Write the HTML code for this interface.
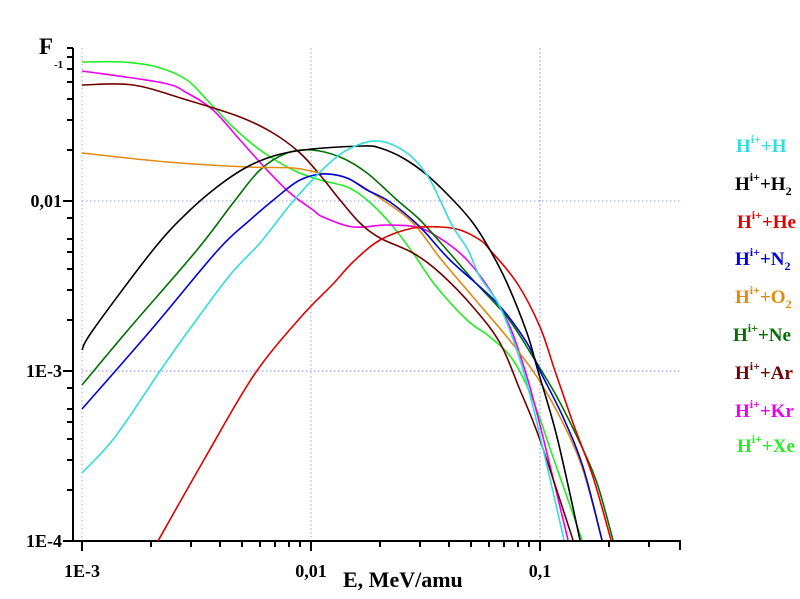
<!DOCTYPE html>
<html><head><meta charset="utf-8"><style>
html,body{margin:0;padding:0;background:#fff;}
svg{display:block;font-family:"Liberation Serif",serif;font-weight:bold;}
</style></head><body>
<svg id="s" width="800" height="599" viewBox="0 0 800 599" xmlns="http://www.w3.org/2000/svg">
<g stroke-dasharray="1.5,2.5" stroke-width="1">
<line x1="82" y1="48" x2="82" y2="541" stroke="#aaa"/>
<line x1="311" y1="48" x2="311" y2="541" stroke="#aaa"/>
<line x1="540" y1="48" x2="540" y2="541" stroke="#88f"/>
<line x1="82" y1="201" x2="680" y2="201" stroke="#99d"/>
<line x1="82" y1="371" x2="680" y2="371" stroke="#88e"/>
</g>
<g stroke="#000" stroke-width="2" fill="none">
<line x1="73" y1="48" x2="73" y2="542"/>
<line x1="72" y1="541" x2="681" y2="541"/>
<line x1="680" y1="541" x2="680" y2="550"/>
<line x1="63" y1="201" x2="73" y2="201"/>
<line x1="63" y1="371" x2="73" y2="371"/>
<line x1="63" y1="541" x2="73" y2="541"/>
<line x1="67" y1="150" x2="73" y2="150"/><line x1="67" y1="120" x2="73" y2="120"/><line x1="67" y1="99" x2="73" y2="99"/><line x1="67" y1="82" x2="73" y2="82"/><line x1="67" y1="69" x2="73" y2="69"/><line x1="67" y1="57" x2="73" y2="57"/><line x1="67" y1="48" x2="73" y2="48"/>
<line x1="67" y1="218" x2="73" y2="218"/><line x1="67" y1="239" x2="73" y2="239"/><line x1="67" y1="252" x2="73" y2="252"/><line x1="67" y1="269" x2="73" y2="269"/><line x1="67" y1="290" x2="73" y2="290"/><line x1="67" y1="320" x2="73" y2="320"/>
<line x1="67" y1="388" x2="73" y2="388"/><line x1="67" y1="409" x2="73" y2="409"/><line x1="67" y1="422" x2="73" y2="422"/><line x1="67" y1="439" x2="73" y2="439"/><line x1="67" y1="460" x2="73" y2="460"/><line x1="67" y1="490" x2="73" y2="490"/>
<line x1="82" y1="541" x2="82" y2="551"/><line x1="311" y1="541" x2="311" y2="551"/><line x1="540" y1="541" x2="540" y2="551"/>
<line x1="151" y1="541" x2="151" y2="547"/><line x1="191" y1="541" x2="191" y2="547"/><line x1="220" y1="541" x2="220" y2="547"/><line x1="242" y1="541" x2="242" y2="547"/><line x1="260" y1="541" x2="260" y2="547"/><line x1="275" y1="541" x2="275" y2="547"/><line x1="289" y1="541" x2="289" y2="547"/><line x1="300" y1="541" x2="300" y2="547"/>
<line x1="380" y1="541" x2="380" y2="547"/><line x1="420" y1="541" x2="420" y2="547"/><line x1="449" y1="541" x2="449" y2="547"/><line x1="471" y1="541" x2="471" y2="547"/><line x1="489" y1="541" x2="489" y2="547"/><line x1="504" y1="541" x2="504" y2="547"/><line x1="518" y1="541" x2="518" y2="547"/><line x1="529" y1="541" x2="529" y2="547"/>
<line x1="609" y1="541" x2="609" y2="547"/><line x1="649" y1="541" x2="649" y2="547"/>
</g>
<g id="curves" fill="none" stroke-width="1.6" stroke-linejoin="round">
<polyline stroke="#22ee22" points="82,62 123,62 157,67 187,80 207,100 233,127 260,150 293,170 320,180 347,187 367,200 390,223 413,253 435,285 467,320 490,337 513,360 533,400 553,457 582,540"/>
<polyline stroke="#ee00ee" points="82,71 163,83 187,93 213,110 240,140 267,170 290,193 313,210 323,217 353,227 387,225 420,228 447,243 467,260 490,290 510,327 527,377 543,437 568,540"/>
<polyline stroke="#700000" points="82,85 133,85 187,100 240,117 273,133 300,153 320,175 340,200 360,223 380,238 413,253 440,273 473,307 500,343 520,390 540,440 573,540"/>
<polyline stroke="#007000" points="82,385 128,330 197,250 233,203 260,170 287,153 312,150 340,157 367,173 397,200 420,220 447,250 473,280 507,317 533,357 557,397 580,443 597,483 613,540"/>
<polyline stroke="#e08a10" points="82,153 167,162 247,167 293,168 320,173 347,178 380,198 413,223 440,258 473,297 507,337 537,377 563,423 583,470 602,540"/>
<polyline stroke="#0000e0" points="82,409 151,330 218,250 250,220 277,197 300,180 323,174 347,178 367,190 390,202 420,227 450,260 497,303 527,343 540,371 563,417 583,467 602,540"/>
<polyline stroke="#e00000" points="158,541 205,458 254,375 300,318 333,284 353,262 380,240 413,228 440,227 460,230 480,240 490,250 517,283 540,327 555,371 573,423 593,477 611,540"/>
<polyline stroke="#000" points="82,350 93,330 153,250 187,213 217,187 247,167 277,155 312,149 363,146 380,148 403,158 427,175 453,200 473,223 490,250 507,283 527,333 538,371 557,437 580,540"/>
<polyline stroke="#33dddd" points="82,473 115,437 160,371 189,330 230,275 260,243 290,205 320,172 347,150 378,141 407,153 427,175 440,200 453,227 468,250 480,277 500,307 520,360 537,423 564,540"/>
</g>
<text x="39" y="54" font-size="23">F</text>
<text x="54" y="68" font-size="11">-1</text>
<g font-size="18" text-anchor="end">
<text x="62" y="207">0,01</text>
<text x="62" y="377">1E-3</text>
<text x="62" y="547">1E-4</text>
</g>
<g font-size="18" text-anchor="middle">
<text x="82" y="577">1E-3</text>
<text x="311" y="577">0,01</text>
<text x="540" y="577">0,1</text>
</g>
<text x="343" y="587" font-size="22">E, MeV/amu</text>
<g font-size="19">
<text x="736" y="152" fill="#33dddd">H<tspan font-size="12" dy="-9">i+</tspan><tspan dy="9">+H</tspan></text>
<text x="735" y="190" fill="#000">H<tspan font-size="12" dy="-9">i+</tspan><tspan dy="9">+H</tspan><tspan font-size="12" dy="5">2</tspan></text>
<text x="737" y="228" fill="#e00000">H<tspan font-size="12" dy="-9">i+</tspan><tspan dy="9">+He</tspan></text>
<text x="735" y="265" fill="#0000e0">H<tspan font-size="12" dy="-9">i+</tspan><tspan dy="9">+N</tspan><tspan font-size="12" dy="5">2</tspan></text>
<text x="735" y="303" fill="#e08a10">H<tspan font-size="12" dy="-9">i+</tspan><tspan dy="9">+O</tspan><tspan font-size="12" dy="5">2</tspan></text>
<text x="733" y="341" fill="#007000">H<tspan font-size="12" dy="-9">i+</tspan><tspan dy="9">+Ne</tspan></text>
<text x="735" y="379" fill="#700000">H<tspan font-size="12" dy="-9">i+</tspan><tspan dy="9">+Ar</tspan></text>
<text x="735" y="417" fill="#ee00ee">H<tspan font-size="12" dy="-9">i+</tspan><tspan dy="9">+Kr</tspan></text>
<text x="737" y="452" fill="#22ee22">H<tspan font-size="12" dy="-9">i+</tspan><tspan dy="9">+Xe</tspan></text>
</g>
</svg>
<script>
(function(){
var NS="http://www.w3.org/2000/svg";
var pls=document.querySelectorAll("#curves polyline");
for(var i=0;i<pls.length;i++){
 var pl=pls[i];
 var p=pl.getAttribute("points").trim().split(/\s+/).map(function(s){var a=s.split(",");return [+a[0],+a[1]];});
 var d="M"+p[0][0]+","+p[0][1];
 for(var j=0;j<p.length-1;j++){
  var p0=p[j-1]||p[j],p1=p[j],p2=p[j+1],p3=p[j+2]||p2;
  var c1x=p1[0]+(p2[0]-p0[0])/6,c1y=p1[1]+(p2[1]-p0[1])/6;
  var c2x=p2[0]-(p3[0]-p1[0])/6,c2y=p2[1]-(p3[1]-p1[1])/6;
  d+=" C"+c1x.toFixed(1)+","+c1y.toFixed(1)+" "+c2x.toFixed(1)+","+c2y.toFixed(1)+" "+p2[0]+","+p2[1];
 }
 var path=document.createElementNS(NS,"path");
 path.setAttribute("d",d);
 path.setAttribute("stroke",pl.getAttribute("stroke"));
 pl.parentNode.replaceChild(path,pl);
}
})();
</script>
</body></html>
